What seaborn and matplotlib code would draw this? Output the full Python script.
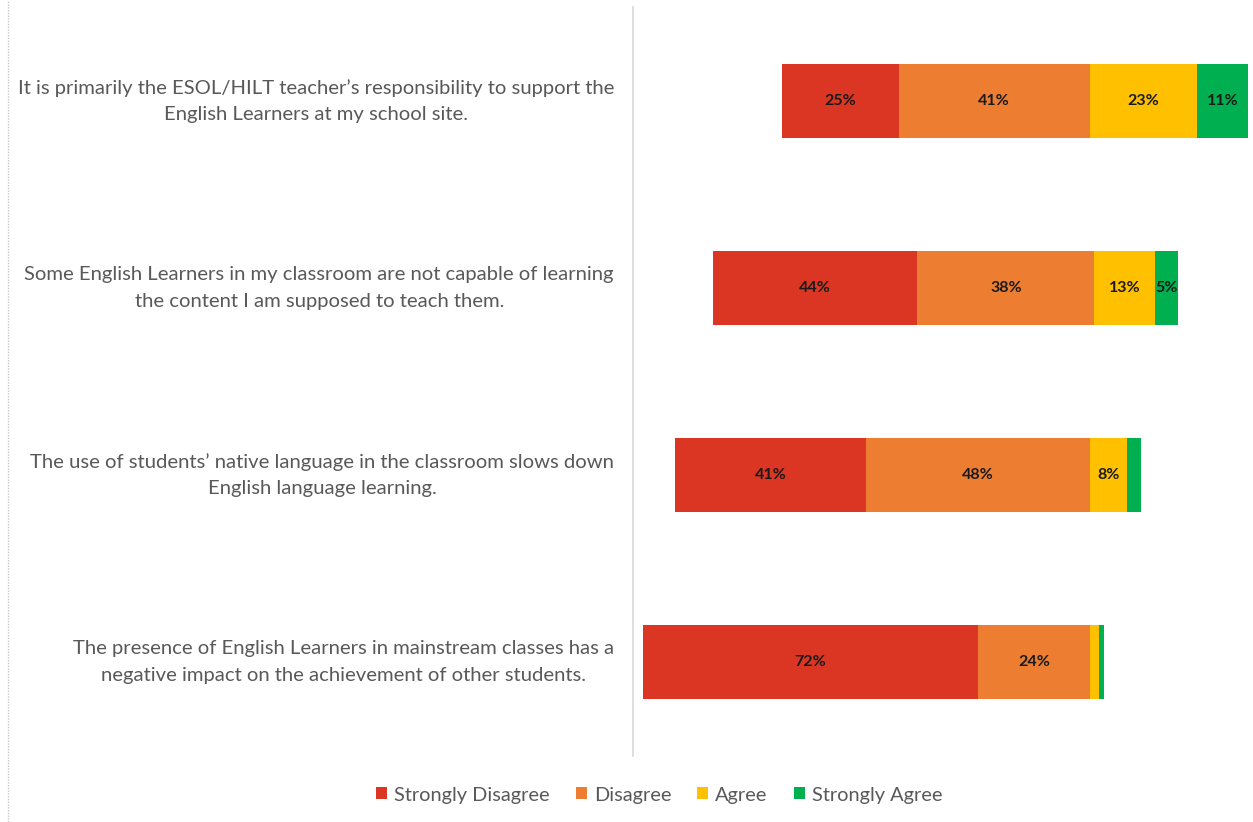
import matplotlib
matplotlib.use("Agg")
import matplotlib.pyplot as plt
import seaborn as sns
import pandas as pd
import numpy as np
from matplotlib.patches import Patch
from matplotlib.lines import Line2D

statements = [
    "It is primarily the ESOL/HILT teacher\u2019s responsibility to support the\nEnglish Learners at my school site.",
    "Some English Learners in my classroom are not capable of learning\nthe content I am supposed to teach them.",
    "The use of students\u2019 native language in the classroom slows down\nEnglish language learning.",
    "The presence of English Learners in mainstream classes has a\nnegative impact on the achievement of other students.",
]
spacer = [32, 17, 9, 2]
strongly_disagree = [25, 44, 41, 72]
disagree = [41, 38, 48, 24]
agree = [23, 13, 8, 2]
strongly_agree = [11, 5, 3, 1]
show_label = {
    "Strongly Disagree": [True, True, True, True],
    "Disagree": [True, True, True, True],
    "Agree": [True, True, True, False],
    "Strongly Agree": [True, True, False, False],
}
series_names = ["Strongly Disagree", "Disagree", "Agree", "Strongly Agree"]
colors = ["#DB3623", "#ED7D31", "#FFC000", "#00B050"]

sns.set_theme(style="white")
plt.rcParams["font.family"] = ["Lato", "DejaVu Sans"]

W, H = 1253, 822
fig = plt.figure(figsize=(W / 100, H / 100), dpi=100)
ax = fig.add_axes([633.4 / W, 1 - 755.5 / H, (1248 - 633.4) / W, 748 / H])

df = pd.DataFrame({
    "statement": statements,
    "spacer": spacer,
    "Strongly Disagree": strongly_disagree,
    "Disagree": disagree,
    "Agree": agree,
    "Strongly Agree": strongly_agree,
})
cols = ["spacer"] + series_names
cum = df[cols].cumsum(axis=1)

# draw cumulative layers from right to left; spacer drawn in white
layer_colors = ["white"] + colors
for col, colr in reversed(list(zip(cols, layer_colors))):
    sns.barplot(data=cum.assign(statement=df["statement"]), x=col, y="statement",
                orient="h", color=colr, width=0.4, ax=ax, saturation=1,
                edgecolor="none", linewidth=0)

# value labels
for name in series_names:
    right = cum[name].to_numpy()
    vals = df[name].to_numpy()
    for i, (r, v) in enumerate(zip(right, vals)):
        if show_label[name][i]:
            ax.text(r - v / 2, i, f"{v}%", ha="center", va="center",
                    fontsize=11.5, fontweight="bold", color="#1a1a1a")

ax.set_xlim(0, 132)
ax.set_ylim(3.5, -0.5)
ax.set_xlabel("")
ax.set_ylabel("")
ax.set_xticks([])
for s in ["top", "right", "bottom"]:
    ax.spines[s].set_visible(False)
ax.spines["left"].set_color("#d9d9d9")
ax.spines["left"].set_linewidth(1.2)
ax.tick_params(axis="y", length=0, pad=14)
for t in ax.get_yticklabels():
    t.set_ha("right")
    t.set_va("center")
    t.set_multialignment("center")
    t.set_fontsize(14.6)
    t.set_color("#595959")
    t.set_linespacing(1.68)

handles = [Patch(facecolor=c, edgecolor="none") for c in colors]
fig.legend(handles, series_names, loc="center", bbox_to_anchor=(659 / W, 1 - 795 / H),
           ncol=4, frameon=False, fontsize=14.4, handlelength=0.55, handleheight=0.55,
           handletextpad=0.35, columnspacing=1.3, labelcolor="#595959")

fig.add_artist(Line2D([8 / W, 8 / W], [0, 1], transform=fig.transFigure,
                      color="#c8c8c8", linewidth=1, linestyle=(0, (1, 1))))

fig.savefig("out.png", dpi=100, facecolor="white")
